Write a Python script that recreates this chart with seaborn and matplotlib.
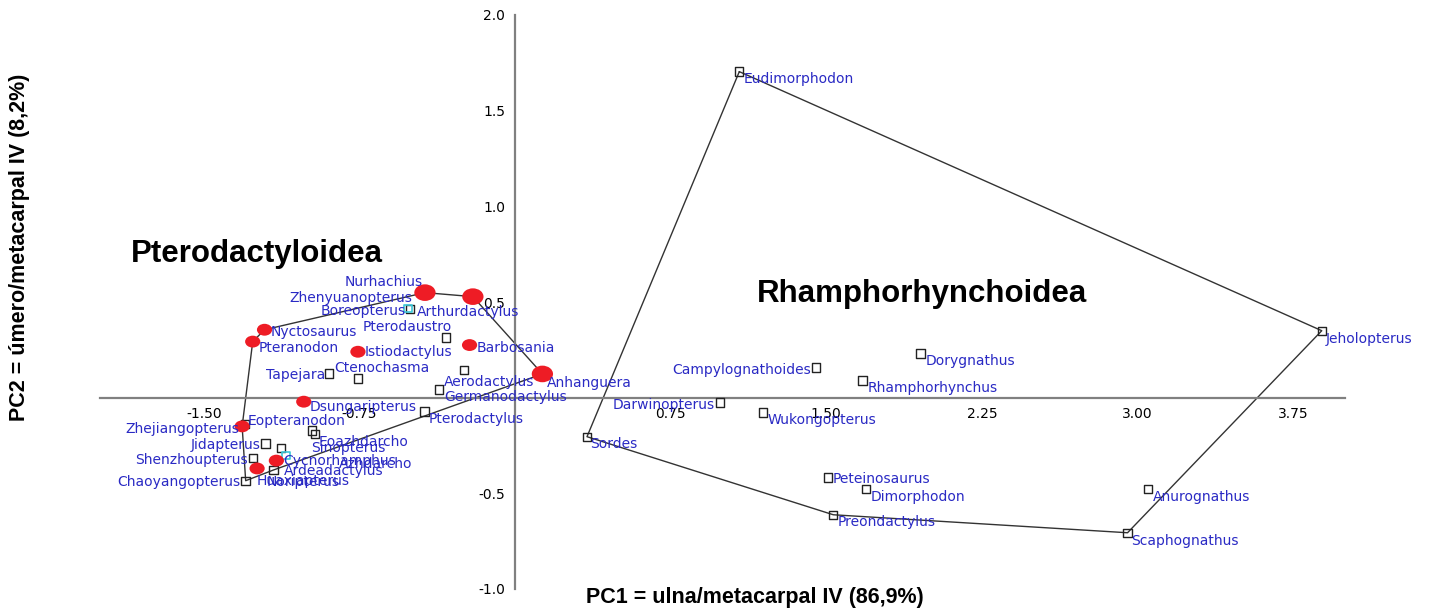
import matplotlib
matplotlib.use("Agg")
import matplotlib.pyplot as plt
from matplotlib.path import Path
import seaborn as sns

# ------------------------------------------------------------
# PCA scores (PC1 = ulna/mc IV, PC2 = umero/mc IV)
# ------------------------------------------------------------
rhampho_names = ["Eudimorphodon", "Jeholopterus", "Dorygnathus", "Campylognathoides",
                 "Rhamphorhynchus", "Darwinopterus", "Wukongopterus", "Sordes",
                 "Peteinosaurus", "Dimorphodon", "Preondactylus", "Anurognathus",
                 "Scaphognathus"]
rhampho_pc1 = [1.081, 3.888, 1.954, 1.452, 1.674, 0.989, 1.196, 0.347,
               1.510, 1.693, 1.534, 3.049, 2.952]
rhampho_pc2 = [1.704, 0.350, 0.230, 0.157, 0.089, -0.026, -0.078, -0.204,
               -0.418, -0.476, -0.612, -0.476, -0.706]

# squares = open markers, cyan = small cyan squares, red / red_big = filled dots
ptero_names = ["Arthurdactylus", "Pterodaustro", "Tapejara", "Ctenochasma", "Aerodactylus",
               "Germanodactylus", "Pterodactylus", "Eopteranodon", "Jidapterus",
               "Shenzhoupterus", "Chaoyangopterus", "Eoazhdarcho", "Sinopterus",
               "Azhdarcho", "Noripterus",
               "Boreopterus", "Ardeadactylus",
               "Nurhachius", "Zhenyuanopterus", "Anhanguera",
               "Nyctosaurus", "Pteranodon", "Istiodactylus", "Barbosania",
               "Dsungaripterus", "Zhejiangopterus", "Huaxiapterus", "Cycnorhamphus"]
ptero_pc1 = [-0.505, -0.334, -0.897, -0.756, -0.246,
             -0.367, -0.436, -1.302, -1.203,
             -1.264, -1.298, -0.978, -0.965,
             -1.127, -1.164,
             -0.515, -1.105,
             -0.434, -0.203, 0.132,
             -1.207, -1.264, -0.757, -0.219,
             -1.018, -1.315, -1.243, -1.150]
ptero_pc2 = [0.462, 0.315, 0.127, 0.101, 0.146,
             0.042, -0.073, -0.136, -0.239,
             -0.317, -0.434, -0.172, -0.190,
             -0.263, -0.378,
             0.467, -0.303,
             0.549, 0.528, 0.124,
             0.355, 0.293, 0.240, 0.275,
             -0.021, -0.150, -0.370, -0.329]
ptero_kind = ["square"] * 15 + ["cyan"] * 2 + ["red_big"] * 3 + ["red"] * 8

rhampho_hull = ["Eudimorphodon", "Jeholopterus", "Scaphognathus", "Preondactylus",
                "Sordes", "Eudimorphodon"]
ptero_hull = ["Zhejiangopterus", "Pteranodon", "Nyctosaurus", "Nurhachius",
              "Zhenyuanopterus", "Anhanguera", "Noripterus", "Chaoyangopterus",
              "Zhejiangopterus"]

xticks = [-1.50, -0.75, 0.75, 1.50, 2.25, 3.00, 3.75]
yticks = [-1.0, -0.5, 0.5, 1.0, 1.5, 2.0]

# label placement (pixel offsets from the marker, alignment)
label_pos = {
    "Eudimorphodon": (4, -7, "left"), "Jeholopterus": (4, -8, "left"),
    "Dorygnathus": (5, -7, "left"), "Campylognathoides": (-5, -2, "right"),
    "Rhamphorhynchus": (5, -7, "left"), "Darwinopterus": (-5, -2, "right"),
    "Wukongopterus": (4, -7, "left"), "Sordes": (3, -7, "left"),
    "Peteinosaurus": (4, -1, "left"), "Dimorphodon": (4, -8, "left"),
    "Preondactylus": (4, -7, "left"), "Anurognathus": (5, -8, "left"),
    "Scaphognathus": (4, -8, "left"),
    "Nurhachius": (-2, 11, "right"), "Zhenyuanopterus": (-61, -1, "right"),
    "Boreopterus": (-2, -3, "right"), "Arthurdactylus": (7, -3, "left"),
    "Pterodaustro": (6, 10, "right"), "Nyctosaurus": (6, -2, "left"),
    "Pteranodon": (6, -6, "left"), "Istiodactylus": (7, 0, "left"),
    "Barbosania": (7, -3, "left"), "Anhanguera": (5, -9, "left"),
    "Tapejara": (-4, -2, "right"), "Ctenochasma": (-24, 10, "left"),
    "Aerodactylus": (-20, -12, "left"), "Germanodactylus": (5, -7, "left"),
    "Pterodactylus": (4, -7, "left"), "Dsungaripterus": (6, -5, "left"),
    "Eopteranodon": (3, 3, "left"), "Zhejiangopterus": (-3, -3, "right"),
    "Jidapterus": (-5, -2, "right"), "Shenzhoupterus": (-5, -2, "right"),
    "Chaoyangopterus": (-5, -1, "right"), "Eoazhdarcho": (7, -11, "left"),
    "Sinopterus": (-4, -14, "left"), "Azhdarcho": (58, -16, "left"),
    "Cycnorhamphus": (7, 0, "left"), "Ardeadactylus": (-2, -15, "left"),
    "Noripterus": (-7, -12, "left"), "Huaxiapterus": (0, -13, "left"),
}

# ------------------------------------------------------------
sns.set_style("white")
plt.rcParams["font.family"] = ["DejaVu Sans"]
plt.rcParams["text.color"] = "black"

fig = plt.figure(figsize=(14.32, 6.09), dpi=100)
ax = fig.add_axes([100 / 1432, 20 / 609, 1245 / 1432, 574 / 609])

coords = dict(zip(rhampho_names + ptero_names,
                  zip(rhampho_pc1 + ptero_pc1, rhampho_pc2 + ptero_pc2)))

# convex hulls
for hull in (rhampho_hull, ptero_hull):
    sns.lineplot(x=[coords[n][0] for n in hull], y=[coords[n][1] for n in hull],
                 sort=False, estimator=None, color="#333333", lw=1.0, ax=ax, zorder=2)

# open squares
sq_x = rhampho_pc1 + [x for x, k in zip(ptero_pc1, ptero_kind) if k == "square"]
sq_y = rhampho_pc2 + [y for y, k in zip(ptero_pc2, ptero_kind) if k == "square"]
sns.scatterplot(x=sq_x, y=sq_y, marker="s", s=36, color="k", facecolor="none",
                edgecolor="#222222", linewidth=1.0, ax=ax, zorder=3)

cy_x = [x for x, k in zip(ptero_pc1, ptero_kind) if k == "cyan"]
cy_y = [y for y, k in zip(ptero_pc2, ptero_kind) if k == "cyan"]
sns.scatterplot(x=cy_x, y=cy_y, marker="s", s=30, color="#3cc8d8", facecolor="none",
                edgecolor="#3cc8d8", linewidth=1.2, ax=ax, zorder=3)

# red filled ellipses
circ = Path.unit_circle()
ellipse = Path(circ.vertices * [1.0, 0.78], circ.codes)
for kind, size in (("red", 120), ("red_big", 235)):
    rx = [x for x, k in zip(ptero_pc1, ptero_kind) if k == kind]
    ry = [y for y, k in zip(ptero_pc2, ptero_kind) if k == kind]
    sns.scatterplot(x=rx, y=ry, marker=ellipse, s=size, color="#ee1c25",
                    edgecolor="none", linewidth=0, ax=ax, zorder=4)

# taxon labels
for name, (x, y) in coords.items():
    dx, dy, ha = label_pos[name]
    ax.annotate(name, (x, y), xytext=(dx, dy), textcoords="offset pixels",
                ha=ha, va="center", fontsize=10, color="#2a2ac4", zorder=5)

# axes through the origin
ax.set_xlim(-2.0, 4.0)
ax.set_ylim(-1.0, 2.0)
for side in ("top", "right"):
    ax.spines[side].set_visible(False)
for side in ("left", "bottom"):
    ax.spines[side].set_position(("data", 0))
    ax.spines[side].set_color("#808080")
    ax.spines[side].set_linewidth(1.6)
ax.set_xticks(xticks)
ax.set_xticklabels([f"{t:.2f}" for t in xticks])
ax.set_yticks(yticks)
ax.set_yticklabels([f"{t:.1f}" for t in yticks])
ax.tick_params(direction="out", length=5, width=1.0, color="#555555",
               labelsize=10, labelcolor="black", pad=2)
ax.set_facecolor("none")

# group names and axis titles
fig.text(131 / 1432, (609 - 262) / 609, "Pterodactyloidea", fontsize=22.5,
         fontweight="bold", family="Liberation Sans", va="baseline", ha="left",
         color="black")
fig.text(757 / 1432, (609 - 302) / 609, "Rhamphorhynchoidea", fontsize=22.5,
         fontweight="bold", family="Liberation Sans", va="baseline", ha="left",
         color="black")
fig.text(755 / 1432, (609 - 597) / 609, "PC1 = ulna/metacarpal IV (86,9%)",
         fontsize=15.5, fontweight="bold", family="Liberation Sans",
         ha="center", va="center", color="black")
fig.text(20 / 1432, (609 - 247) / 609, "PC2 = úmero/metacarpal IV (8,2%)",
         fontsize=15.5, fontweight="bold", family="Liberation Sans",
         rotation=90, ha="center", va="center", color="black")

fig.savefig("out.png", dpi=100)
